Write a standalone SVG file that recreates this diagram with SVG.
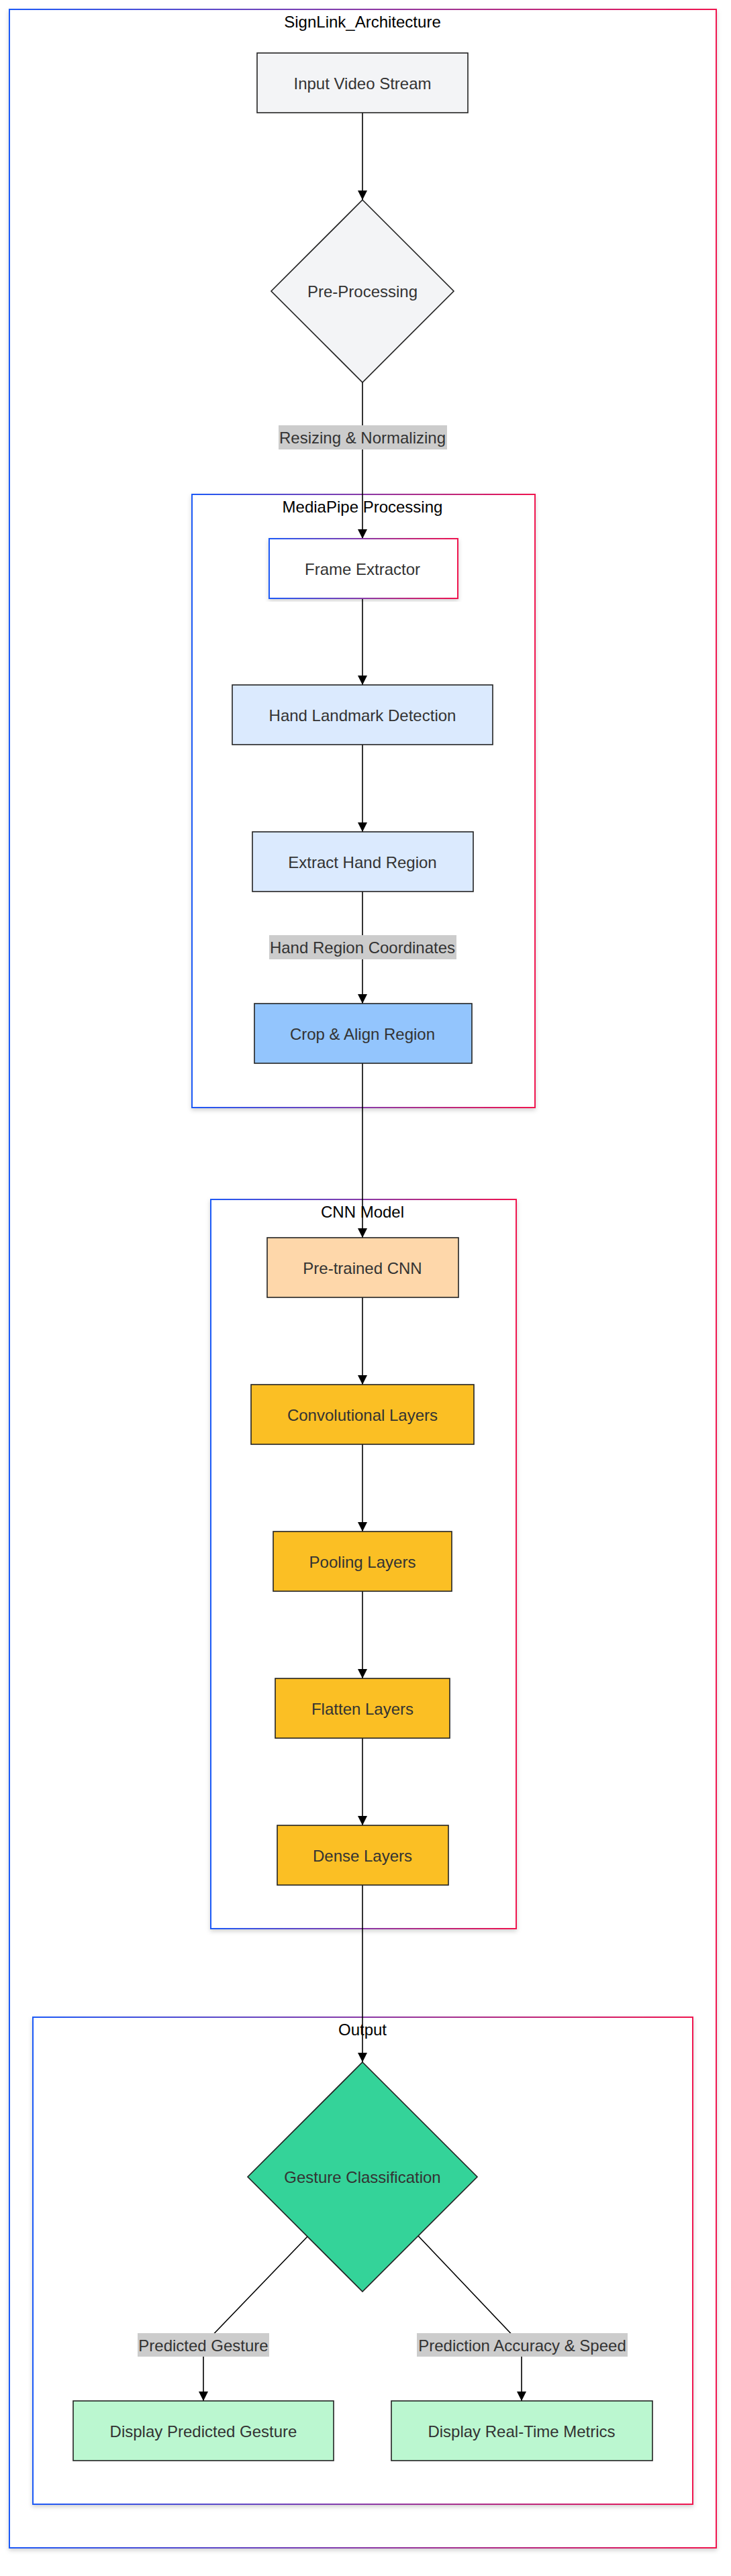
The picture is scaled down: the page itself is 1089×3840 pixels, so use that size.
<svg xmlns="http://www.w3.org/2000/svg" width="1089" height="3840" viewBox="0 0 1089 3840">
<defs>
<linearGradient id="grad" x1="0" y1="0" x2="1" y2="0">
<stop offset="0" stop-color="#1e5af7"/>
<stop offset="0.5" stop-color="#8a3aa8"/>
<stop offset="1" stop-color="#f0144f"/>
</linearGradient>
<filter id="shadow" x="-5%" y="-5%" width="110%" height="110%">
<feDropShadow dx="0" dy="3" stdDeviation="3" flood-color="#000" flood-opacity="0.18"/>
</filter>
<marker id="arrow" viewBox="0 0 10 10" refX="10" refY="5" markerWidth="14" markerHeight="14" markerUnits="userSpaceOnUse" orient="auto">
<path d="M0,0 L10,5 L0,10 z" fill="#000"/>
</marker>
</defs>
<style>
.cluster{fill:#ffffff;stroke:url(#grad);stroke-width:2;filter:url(#shadow)}
.ctitle{font-family:"Liberation Sans",Arial,sans-serif;font-size:24px;fill:#000;text-anchor:middle;dominant-baseline:central}
.node{stroke:#222;stroke-width:1.6}
.ntext{font-family:"Liberation Sans",Arial,sans-serif;font-size:24px;fill:#333;text-anchor:middle;dominant-baseline:central}
.edge{fill:none;stroke:#000;stroke-width:1.6}
.lbg{fill:#cccccc}
.gray{fill:#f3f4f6}
.lblue{fill:#dbeafe}
.mblue{fill:#93c5fd}
.peach{fill:#fed7aa}
.amber{fill:#fbbf24}
.green{fill:#34d399}
.lgreen{fill:#bbf7d0}
</style>
<rect x="0" y="0" width="1089" height="3840" fill="#ffffff"/>

<g id="cluster-SignLink_Architecture">
<rect class="cluster" x="14" y="14" width="1053" height="3784"/>
<text class="ctitle" x="540" y="32">SignLink_Architecture</text>
</g>
<g id="cluster-MediaPipe">
<rect class="cluster" x="286" y="737" width="511" height="914"/>
<text class="ctitle" x="540" y="755">MediaPipe Processing</text>
</g>
<g id="cluster-CNN">
<rect class="cluster" x="314" y="1788" width="455" height="1087"/>
<text class="ctitle" x="540" y="1806">CNN Model</text>
</g>
<g id="cluster-Output">
<rect class="cluster" x="49" y="3007" width="983" height="726"/>
<text class="ctitle" x="540" y="3025">Output</text>
</g>

<g id="connectors">
<path class="edge" d="M540,168 L540,298" marker-end="url(#arrow)"/>
<path class="edge" d="M540,570 L540,803" marker-end="url(#arrow)"/>
<path class="edge" d="M540,892 L540,1021" marker-end="url(#arrow)"/>
<path class="edge" d="M540,1110 L540,1240" marker-end="url(#arrow)"/>
<path class="edge" d="M540,1329 L540,1496" marker-end="url(#arrow)"/>
<path class="edge" d="M540,1585 L540,1845" marker-end="url(#arrow)"/>
<path class="edge" d="M540,1934 L540,2064" marker-end="url(#arrow)"/>
<path class="edge" d="M540,2153 L540,2283" marker-end="url(#arrow)"/>
<path class="edge" d="M540,2372 L540,2502" marker-end="url(#arrow)"/>
<path class="edge" d="M540,2591 L540,2721" marker-end="url(#arrow)"/>
<path class="edge" d="M540,2810 L540,3074" marker-end="url(#arrow)"/>
<path class="edge" d="M458,3334 L308,3490 Q303,3496 303,3503 L303,3579" marker-end="url(#arrow)"/>
<path class="edge" d="M623,3333 L772,3490 Q777,3496 777,3503 L777,3579" marker-end="url(#arrow)"/>
<g id="edge-labels">
<rect class="lbg" x="415" y="634" width="251" height="36"/>
<text class="ntext" x="540" y="652">Resizing &amp; Normalizing</text>
<rect class="lbg" x="401" y="1394" width="279" height="36"/>
<text class="ntext" x="540" y="1412">Hand Region Coordinates</text>
<rect class="lbg" x="205" y="3478" width="196" height="35"/>
<text class="ntext" x="303" y="3496">Predicted Gesture</text>
<rect class="lbg" x="621" y="3478" width="314" height="35"/>
<text class="ntext" x="778" y="3496">Prediction Accuracy &amp; Speed</text>
</g>
</g>

<g id="node-input">
<rect class="node gray" x="383" y="79" width="314" height="89"/>
<text class="ntext" x="540" y="124">Input Video Stream</text>
</g>
<g id="node-preprocessing">
<polygon class="node gray" points="540,298 676,434 540,570 404,434"/>
<text class="ntext" x="540" y="434">Pre-Processing</text>
</g>
<g id="node-frame">
<rect x="401" y="803" width="281" height="89" fill="#ffffff" stroke="url(#grad)" stroke-width="2" filter="url(#shadow)"/>
<text class="ntext" x="540" y="848">Frame Extractor</text>
</g>
<g id="node-landmark">
<rect class="node lblue" x="346" y="1021" width="388" height="89"/>
<text class="ntext" x="540" y="1066">Hand Landmark Detection</text>
</g>
<g id="node-extract">
<rect class="node lblue" x="376" y="1240" width="329" height="89"/>
<text class="ntext" x="540" y="1285">Extract Hand Region</text>
</g>
<g id="node-crop">
<rect class="node mblue" x="379" y="1496" width="324" height="89"/>
<text class="ntext" x="540" y="1541">Crop &amp; Align Region</text>
</g>
<g id="node-pretrained">
<rect class="node peach" x="398" y="1845" width="285" height="89"/>
<text class="ntext" x="540" y="1890">Pre-trained CNN</text>
</g>
<g id="node-conv">
<rect class="node amber" x="374" y="2064" width="332" height="89"/>
<text class="ntext" x="540" y="2109">Convolutional Layers</text>
</g>
<g id="node-pool">
<rect class="node amber" x="407" y="2283" width="266" height="89"/>
<text class="ntext" x="540" y="2328">Pooling Layers</text>
</g>
<g id="node-flatten">
<rect class="node amber" x="410" y="2502" width="260" height="89"/>
<text class="ntext" x="540" y="2547">Flatten Layers</text>
</g>
<g id="node-dense">
<rect class="node amber" x="413" y="2721" width="255" height="89"/>
<text class="ntext" x="540" y="2766">Dense Layers</text>
</g>
<g id="node-gesture">
<polygon class="node green" points="540,3074 711,3245 540,3416 369,3245"/>
<text class="ntext" x="540" y="3245">Gesture Classification</text>
</g>
<g id="node-display-gesture">
<rect class="node lgreen" x="109" y="3579" width="388" height="89"/>
<text class="ntext" x="303" y="3624">Display Predicted Gesture</text>
</g>
<g id="node-display-metrics">
<rect class="node lgreen" x="583" y="3579" width="389" height="89"/>
<text class="ntext" x="777" y="3624">Display Real-Time Metrics</text>
</g>
</svg>
